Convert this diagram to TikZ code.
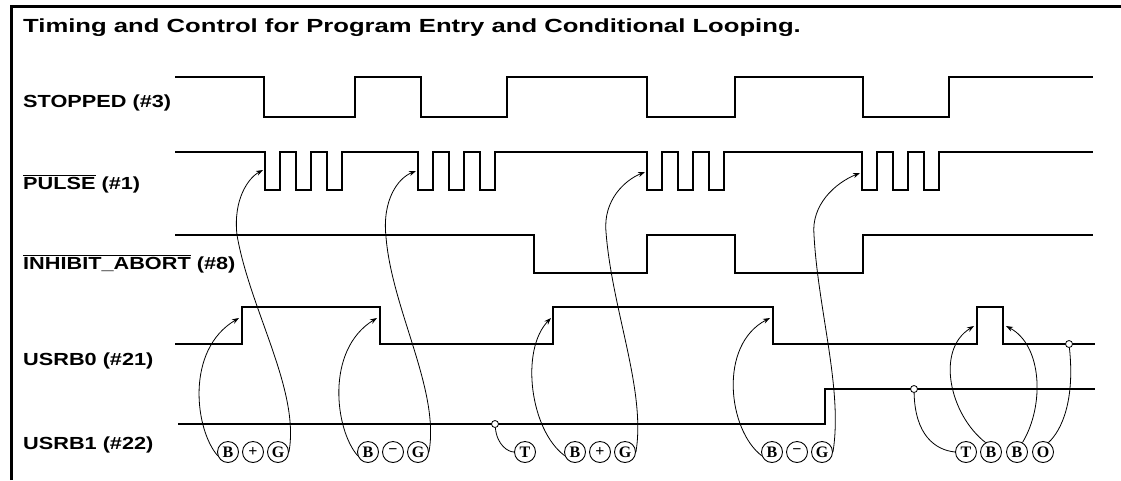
\documentclass[tikz,border=0pt]{standalone}
\usepackage{fontspec}
\setmainfont{Liberation Sans}
\newfontfamily\serifletters{Liberation Serif}
\usetikzlibrary{arrows.meta}
\newcommand\myovl[1]{$\overline{\mbox{#1}}$}
\begin{document}
\begin{tikzpicture}[x=1pt,y=-1pt,
  wave/.style={line width=2.8pt, line join=miter, line cap=butt},
  lbl/.style={anchor=base west, inner sep=0, font=\bfseries\fontsize{17.5}{17.5}\selectfont},
  circ/.style={circle, draw, line width=0.9pt, minimum size=21pt, inner sep=0, font=\serifletters\bfseries\fontsize{16}{16}\selectfont},
  link/.style={line width=0.8pt},
  arr/.style={link, -{Stealth[length=7pt,width=5pt]}},
  dotm/.style={circle, draw, fill=white, line width=0.8pt, minimum size=7pt, inner sep=0}]
\useasboundingbox (0,0) rectangle (1121,480);
\fill[white] (0,0) rectangle (1121,480);
\draw[line width=3pt] (11.5,480) -- (11.5,6) -- (1121,6);
\node[anchor=base west, inner sep=0, font=\bfseries\fontsize{19}{19}\selectfont] (title) at (23,32)
  {\scalebox{1.35}[1]{Timing and Control for Program Entry and Conditional Looping.}};
% labels
\node[lbl] (l1) at (23,107) {\scalebox{1.24}[1]{STOPPED (\#3)}};
\node[lbl] (l2) at (23,189) {\scalebox{1.24}[1]{\myovl{PULSE} (\#1)}};
\node[lbl] (l3) at (23,269) {\scalebox{1.24}[1]{\myovl{INHIBIT\_ABORT} (\#8)}};
\node[lbl] (l4) at (23,365) {\scalebox{1.24}[1]{USRB0 (\#21)}};
\node[lbl] (l5) at (23,449) {\scalebox{1.24}[1]{USRB1 (\#22)}};
% waveforms
\draw[wave] (175,77) -| (264,117) -| (355,77) -| (421,117) -| (507,77) -| (647,117) -| (735,77) -| (863,117) -| (949,77) -- (1093,77);
\draw[wave] (175,152) -| (265,190) -| (280,152) -| (296,190) -| (311,152) -| (327,190) -| (342,152)
  -| (418,190) -| (433,152) -| (449,190) -| (464,152) -| (480,190) -| (495,152)
  -| (647,190) -| (662,152) -| (678,190) -| (693,152) -| (709,190) -| (724,152)
  -| (862,190) -| (877,152) -| (893,190) -| (908,152) -| (924,190) -| (939,152) -- (1093,152);
\draw[wave] (175,235) -| (534,273) -| (647,235) -| (735,273) -| (863,235) -- (1093,235);
\draw[wave] (175,344) -| (242,307) -| (380,344) -| (553,307) -| (773,344) -| (977,307) -| (1003,344) -- (1095,344);
\draw[wave] (178,424) -| (825,389) -- (1095,389);
% markers
\node[dotm] (d1) at (495,424) {};
\node[dotm] (d2) at (914,389) {};
\node[dotm] (d3) at (1069,344) {};
% circled letters
\node[circ] (B1) at (228,452) {B};
\node[circ] (P1) at (253,452) {+};
\node[circ] (G1) at (278,452) {G};
\node[circ] (B2) at (368,452) {B};
\node[circ] (M2) at (393,452) {\char"2212};
\node[circ] (G2) at (418,452) {G};
\node[circ] (T3) at (525,452) {T};
\node[circ] (B3) at (575,452) {B};
\node[circ] (P3) at (600,452) {+};
\node[circ] (G3) at (625,452) {G};
\node[circ] (B4) at (772,452) {B};
\node[circ] (M4) at (797,452) {\char"2212};
\node[circ] (G4) at (822,452) {G};
\node[circ] (T5) at (966,452) {T};
\node[circ] (B5) at (991,452) {B};
\node[circ] (B6) at (1017,452) {B};
\node[circ] (O5) at (1043,452) {O};
% arrow tips
\coordinate (a1) at (239,318);
\coordinate (a2) at (263,170);
\coordinate (a3) at (377,318);
\coordinate (a4) at (416,171);
\coordinate (a6) at (551,318);
\coordinate (a7) at (645,172);
\coordinate (a8) at (770,318);
\coordinate (a9) at (860,173);
\coordinate (a11) at (974,326);
\coordinate (a12) at (1006,326);
% connectors
\draw[arr] (B1.200) .. controls (195,430) and (185,350) .. (a1);
\draw[arr] (G1.east) .. controls (300,390) and (250,310) .. (237,235) .. controls (233,200) and (248,178) .. (a2);
\draw[arr] (B2.200) .. controls (335,430) and (325,350) .. (a3);
\draw[arr] (G2.east) .. controls (440,390) and (392,310) .. (386,237) .. controls (382,200) and (398,178) .. (a4);
\draw[link] (d1) .. controls (497,445) and (508,452) .. (T3.west);
\draw[arr] (B3.200) .. controls (530,430) and (520,350) .. (a6);
\draw[arr] (G3.east) .. controls (646,390) and (612,310) .. (606,232) .. controls (603,200) and (625,180) .. (a7);
\draw[arr] (B4.200) .. controls (728,430) and (718,345) .. (a8);
\draw[arr] (G4.east) .. controls (843,390) and (818,310) .. (814,235) .. controls (811,205) and (835,183) .. (a9);
\draw[link] (d2) .. controls (915,435) and (935,450) .. (T5.west);
\draw[arr] (B5.120) .. controls (950,415) and (935,350) .. (a11);
\draw[arr] (B6.60) .. controls (1045,405) and (1042,345) .. (a12);
\draw[link] (d3) .. controls (1075,400) and (1062,430) .. (O5.60);
\end{tikzpicture}
\end{document}
